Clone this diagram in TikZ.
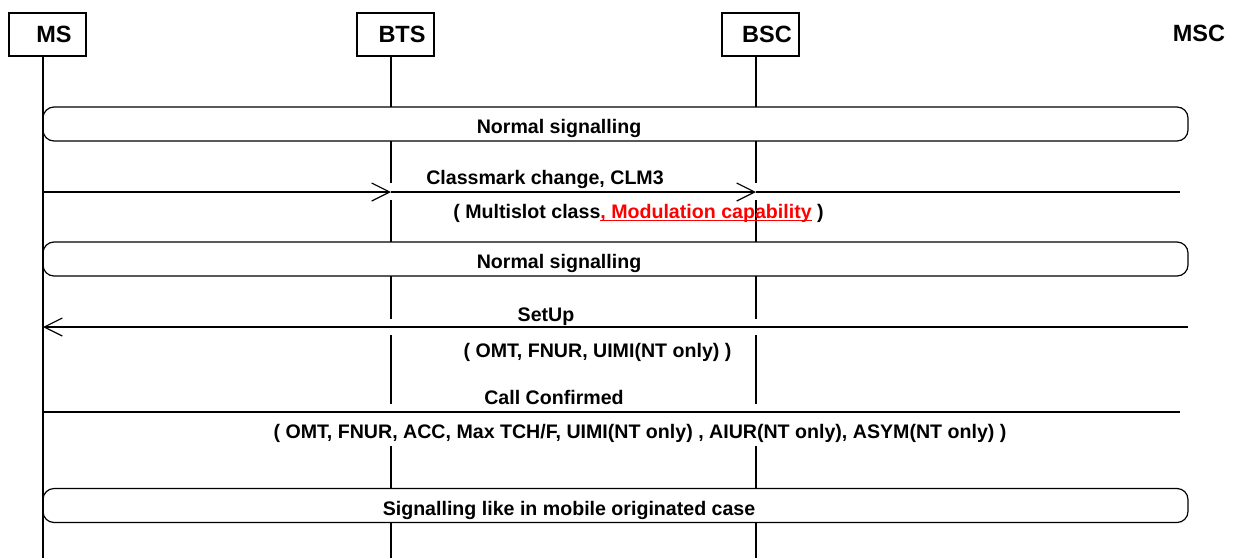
\documentclass[tikz,border=0pt]{standalone}
\usepackage{fontspec}
\setmainfont{Liberation Sans}
\usetikzlibrary{arrows.meta}
\newcommand\myul[1]{\setbox0\hbox{#1}\rlap{\rule[-3pt]{\wd0}{1.5pt}}\box0}
\begin{document}
\begin{tikzpicture}[x=1pt,y=-1pt,
  hdr/.style={draw,line width=1.2pt,minimum width=77pt,minimum height=43pt,inner sep=0pt,font=\bfseries\fontsize{23.5}{26}\selectfont},
  lbl/.style={inner sep=0pt,anchor=base,font=\bfseries\fontsize{19.6}{22}\selectfont},
  sigbox/.style={draw,line width=1.2pt,rounded corners=11pt,minimum width=1145pt,minimum height=34pt,inner sep=0pt},
  life/.style={line width=1.2pt},
  msg/.style={line width=1.2pt},
  tip/.style={-{Straight Barb[length=18pt,width=18pt,line width=1.2pt]}}
]
\useasboundingbox (0,0) rectangle (1239,558);
% headers
\node[hdr] (ms) at (47.5,34.5) {\hspace*{13pt}MS};
\node[hdr] (bts) at (395.5,34.5) {\hspace*{13pt}BTS};
\node[hdr] (bsc) at (760.5,34.5) {\hspace*{13pt}BSC};
\node[inner sep=0pt,anchor=base,font=\bfseries\fontsize{23.5}{26}\selectfont] (msc) at (1199,41) {MSC};
% lifelines
\coordinate (ms-top) at (43,56);
\coordinate (ms-bot) at (43,558);
\draw[life] (ms-top) -- (ms-bot);
\foreach \a/\b in {56/107,141/183,200/242,276/319,335/404,446/488,523/558}{
  \draw[life] (391,\a) -- (391,\b);
  \draw[life] (756,\a) -- (756,\b);
}
% signalling boxes
\node[sigbox] (sig1) at (615.5,124) {};
\node[lbl] (sig1t) at (559,133) {Normal signalling};
\node[sigbox] (sig2) at (615.5,259) {};
\node[lbl] (sig2t) at (559,268) {Normal signalling};
\node[sigbox] (sig3) at (615.5,505.5) {};
\node[lbl] (sig3t) at (569,515) {Signalling like in mobile originated case};
% classmark change
\coordinate (ms-c) at (43,192);
\coordinate (bts-c) at (391,192);
\coordinate (bsc-c) at (756,192);
\coordinate (msc-c) at (1180,192);
\draw[msg,tip] (ms-c) -- (bts-c);
\draw[msg,tip] (bts-c) -- (bsc-c);
\draw[msg] (bsc-c) -- (msc-c);
\node[lbl] (cm) at (545,184) {Classmark change, CLM3};
\node[lbl] (cmp) at (638.5,218) {( Multislot class\textcolor{red}{\myul{, Modulation capability}} )};
% setup
\coordinate (msc-s) at (1188,327);
\coordinate (ms-s) at (43,327);
\draw[msg,tip] (msc-s) -- (ms-s);
\node[lbl] (su) at (546,321) {SetUp};
\node[lbl] (sup) at (597.5,357) {( OMT, FNUR, UIMI(NT only) )};
% call confirmed
\coordinate (ms-k) at (43,412);
\coordinate (msc-k) at (1180,412);
\draw[msg] (ms-k) -- (msc-k);
\node[lbl] (cc) at (554,404) {Call Confirmed};
\node[lbl] (ccp) at (640,438) {( OMT, FNUR, ACC, Max TCH/F, UIMI(NT only) , AIUR(NT only), ASYM(NT only) )};
\end{tikzpicture}
\end{document}
